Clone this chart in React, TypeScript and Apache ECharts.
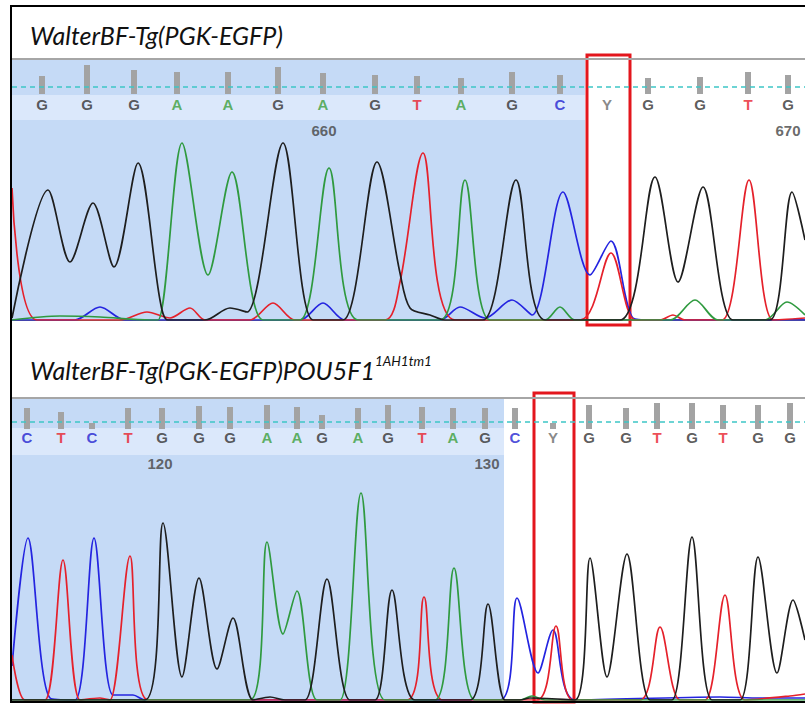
import React, { useEffect, useRef } from 'react';
import * as echarts from 'echarts';

// ---------- Panel 1 : WalterBF-Tg(PGK-EGFP) ----------
const P1_TITLE = 'WalterBF-Tg(PGK-EGFP)';
const P1_BASES = ['G', 'G', 'G', 'A', 'A', 'G', 'A', 'G', 'T', 'A', 'G', 'C', 'Y', 'G', 'G', 'T', 'G'];
const P1_BASE_POS = [42, 87, 134, 177, 228, 278, 323, 375, 417, 461, 512, 560, 607, 648, 700, 748, 788];
const P1_QUAL = [18, 29, 24, 22, 22, 27, 21, 19, 18, 16, 22, 19, 0, 16, 17, 22, 19];
const P1_TICK_POS = [324, 788];
const P1_TICK_LABELS = ['660', '670'];
const P1_CLEAR_END = 585;
const P1_HIGHLIGHT = [587, 630];

const P1_G = [[12, 20], [48, 1300], [70, 580], [93, 1170], [114, 530], [138, 1570], [160, 200], [168, 0], [205, 0], [230, 120], [247, 80], [283, 1770], [313, 0], [343, 0], [377, 1580], [400, 470], [410, 120], [430, 50], [445, 0], [483, 0], [516, 1400], [545, 0], [620, 0], [655, 1430], [678, 380], [703, 1330], [733, 0], [770, 0], [792, 1280], [805, 800]];
const P1_A = [[12, 0], [60, 40], [100, 30], [150, 0], [158, 0], [182, 1770], [208, 450], [232, 1480], [263, 0], [300, 0], [329, 1520], [358, 0], [440, 0], [465, 1400], [490, 0], [545, 0], [560, 130], [575, 0], [670, 0], [695, 200], [718, 0], [765, 0], [787, 180], [805, 50]];
const P1_T = [[12, 1320], [37, 0], [120, 0], [147, 80], [170, 20], [190, 120], [205, 0], [250, 0], [273, 170], [295, 0], [385, 0], [400, 380], [423, 1670], [455, 0], [580, 0], [611, 670], [635, 0], [660, 0], [673, 50], [685, 0], [722, 0], [749, 1400], [773, 0], [805, 20]];
const P1_C = [[12, 0], [75, 0], [100, 130], [125, 0], [300, 0], [323, 170], [345, 0], [440, 0], [460, 130], [485, 20], [512, 200], [532, 50], [563, 1280], [590, 450], [611, 790], [633, 20], [650, 0], [805, 0]];

// ---------- Panel 2 : WalterBF-Tg(PGK-EGFP)POU5F1 1AH1tm1 ----------
const P2_TITLE = 'WalterBF-Tg(PGK-EGFP)POU5F1';
const P2_TITLE_SUP = '1AH1tm1';
const P2_BASES = ['C', 'T', 'C', 'T', 'G', 'G', 'G', 'A', 'A', 'G', 'A', 'G', 'T', 'A', 'G', 'C', 'Y', 'G', 'G', 'T', 'G', 'T', 'G', 'G'];
const P2_BASE_POS = [27, 61, 92, 128, 162, 199, 230, 267, 297, 322, 358, 388, 422, 453, 485, 515, 553, 589, 626, 657, 692, 723, 758, 790];
const P2_QUAL = [21, 17, 6, 21, 21, 23, 22, 24, 22, 14, 21, 24, 22, 21, 21, 21, 6, 24, 21, 26, 26, 24, 24, 26];
const P2_TICK_POS = [160, 487];
const P2_TICK_LABELS = ['120', '130'];
const P2_CLEAR_END = 504;
const P2_HIGHLIGHT = [534, 574];

const P2_G = [[12, 0], [145, 0], [163, 1770], [182, 230], [199, 1220], [217, 310], [233, 820], [253, 0], [270, 30], [285, 0], [305, 0], [327, 1210], [350, 0], [375, 0], [392, 1100], [415, 0], [470, 0], [488, 960], [505, 0], [520, 0], [530, 20], [575, 0], [590, 1420], [607, 230], [627, 1460], [650, 0], [672, 0], [692, 1630], [712, 0], [740, 0], [758, 1430], [777, 270], [793, 1000], [805, 600]];
const P2_A = [[12, 0], [250, 0], [267, 1580], [283, 660], [297, 1090], [317, 0], [340, 0], [361, 2070], [385, 0], [435, 0], [454, 1320], [475, 0], [520, 0], [532, 40], [545, 0], [805, 0]];
const P2_T = [[12, 450], [25, 0], [45, 0], [63, 1400], [80, 0], [100, 20], [110, 0], [130, 1440], [148, 0], [407, 0], [424, 1030], [443, 0], [537, 0], [556, 740], [573, 0], [640, 0], [660, 730], [680, 0], [705, 0], [725, 1050], [745, 0], [790, 40], [805, 60]];
const P2_C = [[12, 340], [28, 1620], [50, 20], [75, 0], [94, 1620], [113, 50], [133, 50], [145, 0], [500, 0], [517, 1020], [538, 270], [553, 700], [575, 0], [720, 30], [760, 20], [805, 20]];

const BASE_COLORS: Record<string, string> = {
  G: '#333333',
  A: '#3a9e3a',
  T: '#e8202a',
  C: '#2222d0',
  Y: '#6a6a6a',
};
const TRACE_COLORS = { G: '#1e1e1e', A: '#2f9a3f', T: '#e5212b', C: '#2424e0' };

const panels = [
  {
    title: P1_TITLE, sup: '', bases: P1_BASES, pos: P1_BASE_POS, qual: P1_QUAL,
    tickPos: P1_TICK_POS, tickLabels: P1_TICK_LABELS, clearEnd: P1_CLEAR_END, hl: P1_HIGHLIGHT,
    traces: { G: P1_G, A: P1_A, T: P1_T, C: P1_C },
    layout: { titleTop: 14, top: 58, qH: 36, dash: 7.5, letterTop: 94, numTop: 121, traceTop: 120, base: 320, boxTop: 55, boxBottom: 325, bandTop: 95, bandBottom: 120, axisLine: true },
  },
  {
    title: P2_TITLE, sup: P2_TITLE_SUP, bases: P2_BASES, pos: P2_BASE_POS, qual: P2_QUAL,
    tickPos: P2_TICK_POS, tickLabels: P2_TICK_LABELS, clearEnd: P2_CLEAR_END, hl: P2_HIGHLIGHT,
    traces: { G: P2_G, A: P2_A, T: P2_T, C: P2_C },
    layout: { titleTop: 349, top: 397, qH: 32, dash: 7, letterTop: 427, numTop: 454, traceTop: 455, base: 700, boxTop: 393, boxBottom: 702, bandTop: 428, bandBottom: 455, axisLine: false },
  },
];

const W = 805;
const H = 704;
const XMIN = 12;
const XMAX = 805;

function buildOption() {
  const grid: any[] = [];
  const xAxis: any[] = [];
  const yAxis: any[] = [];
  const series: any[] = [];
  const title: any[] = [];

  const addGrid = (top: number, height: number, ymax: number, showAxisLine = false) => {
    const idx = grid.length;
    grid.push({ left: XMIN, right: W - XMAX, top, height, containLabel: false });
    xAxis.push({
      type: 'value', gridIndex: idx, min: XMIN, max: XMAX, show: showAxisLine,
      axisLine: { show: showAxisLine, lineStyle: { color: '#3a3a3a', width: 1.5 } },
      axisTick: { show: false }, axisLabel: { show: false }, splitLine: { show: false },
    });
    yAxis.push({ type: 'value', gridIndex: idx, min: 0, max: ymax, show: false, splitLine: { show: false } });
    return idx;
  };

  panels.forEach((p) => {
    const L = p.layout;
    title.push({
      text: p.sup ? `{m|${p.title}}{s|${p.sup}}` : `{m|${p.title}}`,
      left: 25,
      top: L.titleTop,
      textStyle: {
        fontWeight: 'normal',
        rich: {
          m: { fontFamily: 'Lato', fontStyle: 'italic', fontWeight: 'normal', fontSize: 25, color: '#111', lineHeight: 32 },
          s: { fontFamily: 'Lato', fontStyle: 'italic', fontWeight: 'normal', fontSize: 13.5, color: '#111', lineHeight: 32, verticalAlign: 'top', padding: [0, 0, 10, 0] },
        },
      },
    });

    // background grid (whole panel, 10 intensity units / px)
    const bgH = L.base - L.top;
    const bgIdx = addGrid(L.top, bgH, bgH * 10);
    series.push({
      type: 'line', xAxisIndex: bgIdx, yAxisIndex: bgIdx, data: [[XMIN, 0]], showSymbol: false,
      lineStyle: { opacity: 0 }, silent: true, z: 0,
      markArea: {
        silent: true,
        data: [
          [{ xAxis: XMIN, itemStyle: { color: '#c5daf6' } }, { xAxis: p.clearEnd }],
          [{ xAxis: XMIN, yAxis: (L.base - L.bandBottom) * 10, itemStyle: { color: '#dbe8fb' } }, { xAxis: p.clearEnd, yAxis: (L.base - L.bandTop) * 10 }],
        ],
      },
      markLine: {
        silent: true, symbol: ['none', 'none'], label: { show: false },
        data: [{ yAxis: bgH * 10 - 8, lineStyle: { color: '#a6a6a6', width: 2, type: 'solid' } }],
      },
    });

    // quality bars
    const qIdx = addGrid(L.top, L.qH, L.qH);
    series.push({
      type: 'bar', xAxisIndex: qIdx, yAxisIndex: qIdx, barWidth: 6, z: 3,
      data: p.pos.map((x, i) => [x, p.qual[i]]),
      itemStyle: { color: '#a3a3a3' },
      markLine: {
        silent: true, symbol: ['none', 'none'], label: { show: false },
        data: [{ yAxis: L.dash }],
        lineStyle: { color: '#3ec6c6', type: [5, 4], width: 1.6 },
        z: 4,
      },
    });

    // base letters
    const lIdx = addGrid(L.letterTop, 20, 1);
    series.push({
      type: 'scatter', xAxisIndex: lIdx, yAxisIndex: lIdx, symbolSize: 1, z: 5,
      itemStyle: { color: 'rgba(0,0,0,0)' },
      data: p.bases.map((b, i) => ({
        value: [p.pos[i], 0.5], name: b,
        label: { color: BASE_COLORS[b] },
      })),
      label: {
        show: true, position: 'inside', formatter: (d: any) => d.name,
        fontFamily: 'Liberation Sans', fontSize: 15, fontWeight: 'bold',
      },
    });

    // position numbers
    const nIdx = addGrid(L.numTop, 18, 1);
    series.push({
      type: 'scatter', xAxisIndex: nIdx, yAxisIndex: nIdx, symbolSize: 1, z: 5,
      itemStyle: { color: 'rgba(0,0,0,0)' },
      data: p.tickPos.map((x, i) => ({ value: [x, 0.5], name: p.tickLabels[i] })),
      label: {
        show: true, position: 'inside', formatter: (d: any) => d.name,
        fontFamily: 'Liberation Sans', fontSize: 15, fontWeight: 'bold', color: '#444',
      },
    });

    // traces
    const tH = L.base - L.traceTop;
    const tIdx = addGrid(L.traceTop, tH, tH * 10, L.axisLine);
    (['C', 'T', 'A', 'G'] as const).forEach((k) => {
      series.push({
        type: 'line', xAxisIndex: tIdx, yAxisIndex: tIdx, data: (p.traces as any)[k],
        smooth: 0.3, showSymbol: false, z: 6,
        lineStyle: { color: TRACE_COLORS[k], width: 1.7 },
      });
    });

    // highlight box
    const bIdx = addGrid(L.boxTop, L.boxBottom - L.boxTop, 1);
    series.push({
      type: 'line', xAxisIndex: bIdx, yAxisIndex: bIdx, data: [[XMIN, 0]], showSymbol: false,
      lineStyle: { opacity: 0 }, silent: true, z: 20,
      markArea: {
        silent: true,
        itemStyle: { color: 'rgba(0,0,0,0)', borderColor: '#e3161d', borderWidth: 3 },
        data: [[{ xAxis: p.hl[0] }, { xAxis: p.hl[1] }]],
      },
    });
  });

  return {
    animation: false,
    backgroundColor: '#ffffff',
    title,
    grid,
    xAxis,
    yAxis,
    series,
    graphic: [
      {
        type: 'rect', z: 100, silent: true,
        shape: { x: 11, y: 6, width: 840, height: 696 },
        style: { fill: 'none', stroke: '#000', lineWidth: 2 },
      },
    ],
  };
}

export default function App() {
  const ref = useRef<HTMLDivElement>(null);
  useEffect(() => {
    if (!ref.current) return;
    const chart = echarts.init(ref.current, null, { renderer: 'svg' });
    chart.setOption(buildOption() as any);
    return () => chart.dispose();
  }, []);
  return (
    <div
      ref={ref}
      style={{ position: 'fixed', left: 0, top: 0, width: W, height: H, background: '#fff' }}
    />
  );
}
